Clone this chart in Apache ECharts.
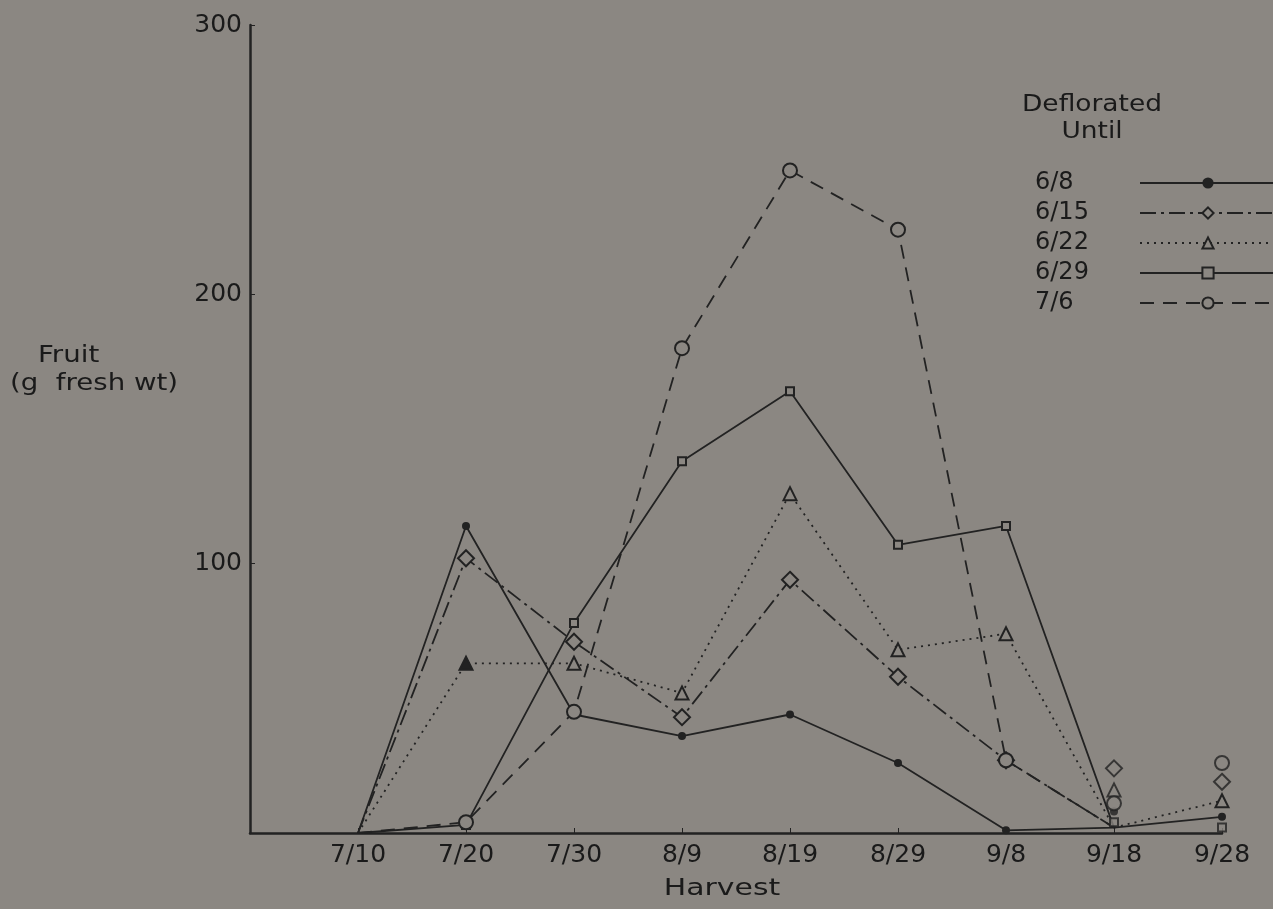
<!DOCTYPE html>
<html>
<head>
<meta charset="utf-8">
<script src="https://cdn.jsdelivr.net/npm/echarts@6/dist/echarts.min.js"></script>
<style>
html,body{margin:0;padding:0;background:#8b8782}
#main{width:1273px;height:909px}
</style>
</head>
<body>
<div id="main"></div>
<script>
var harvest = ['', '7/10', '7/20', '7/30', '8/9', '8/19', '8/29', '9/8', '9/18', '9/28']
var until = ['6/8', '6/15', '6/22', '6/29', '7/6']
// values on the curves (the curves all run down to the axis at 9/18)
var d0608 = [null, 0, 114, 44, 36, 44, 26, 1, 2, 6]
var d0615 = [null, 0, 102, 71, 43, 94, 58, 27, 2, null]
var d0622 = [null, 0, 63, 63, 52, 126, 68, 74, 2, 12]
var d0629 = [null, 0, 3, 78, 138, 164, 107, 114, 2, null]
var d0706 = [null, 0, 4, 45, 180, 246, 224, 27, 2, null]
// markers drawn stacked above the axis at 9/18 and 9/28
var m0608 = [null, null, null, null, null, null, null, null, 8, null]
var m0615 = [null, null, null, null, null, null, null, null, 24, 19]
var m0622 = [null, null, null, null, null, null, null, null, 16, null]
var m0629 = [null, null, null, null, null, null, null, null, 4, 2]
var m0706 = [null, null, null, null, null, null, null, null, 11, 26]
var yTicks = [100, 200, 300]

var ink = '#222222'
var bg = '#8b8782'
var font = 'DejaVu Sans'

// no marker where a curve leaves the axis (7/10) or meets it (9/18)
function pts(arr) {
	return arr.map(function (v, i) {
		if (i == 1 || i == 8) return { value: v, symbol: 'none' }
		return v
	})
}

function markStyle(filled) {
	return { color: filled ? ink : bg, borderColor: ink, borderWidth: filled ? 0 : 2 }
}

function line(name, data, symbol, size, dash, filled) {
	return {
		name: name,
		type: 'line',
		data: data,
		symbol: symbol,
		symbolSize: size,
		showAllSymbol: true,
		connectNulls: false,
		lineStyle: { color: ink, width: 1.8, type: dash },
		itemStyle: markStyle(filled),
		emphasis: { disabled: true },
		z: 3
	}
}

function marks(name, data, symbol, size, filled) {
	return {
		name: name + ' ',
		type: 'scatter',
		data: data,
		symbol: symbol,
		symbolSize: size,
		itemStyle: markStyle(filled),
		emphasis: { disabled: true },
		z: 4
	}
}

var s22 = pts(d0622)
s22[2] = { value: d0622[2], itemStyle: { color: ink } }  // solid triangle at 7/20

var chart = echarts.init(document.getElementById('main'))
chart.setOption({
	backgroundColor: bg,
	animation: false,
	textStyle: { fontFamily: font, color: '#1a1a1a' },
	graphic: [{
		type: 'text', x: 1092, y: 92, scaleX: 1.15,
		style: { text: 'Deflorated\nUntil', font: '23px "DejaVu Sans"', fill: '#1a1a1a', align: 'center', lineHeight: 27 }
	}, {
		type: 'text', x: 38, y: 345, scaleX: 1.2,
		style: { text: 'Fruit', font: '23px "DejaVu Sans"', fill: '#1a1a1a' }
	}, {
		type: 'text', x: 10, y: 373, scaleX: 1.2,
		style: { text: '(g  fresh wt)', font: '23px "DejaVu Sans"', fill: '#1a1a1a' }
	}, {
		type: 'text', x: 722, y: 878, scaleX: 1.3,
		style: { text: 'Harvest', font: '23px "DejaVu Sans"', fill: '#1a1a1a', align: 'center' }
	}],
	legend: {
		orient: 'vertical',
		left: 1030, top: 166,
		align: 'right',
		itemWidth: 136, itemHeight: 14,
		itemGap: 6,
		data: until,
		selectedMode: false,
		formatter: '{t|{name}}',
		textStyle: {
			fontFamily: font, fontSize: 24, color: '#1a1a1a',
			rich: { t: { width: 100, align: 'left', fontFamily: font, fontSize: 24, color: '#1a1a1a' } }
		}
	},
	grid: { left: 250, right: 51, top: 25, bottom: 76, containLabel: false },
	xAxis: {
		type: 'category',
		data: harvest,
		boundaryGap: false,
		axisLine: { lineStyle: { color: ink, width: 2.5 } },
		axisTick: { inside: true, length: 5, lineStyle: { color: ink } },
		axisLabel: { fontFamily: font, fontSize: 25, color: '#1a1a1a', margin: 10 },
		splitLine: { show: false }
	},
	yAxis: {
		type: 'value',
		min: 0, max: 300, interval: 100,
		axisLine: { show: true, lineStyle: { color: ink, width: 2.5 } },
		axisTick: { show: true, inside: true, length: 5, lineStyle: { color: ink } },
		axisLabel: {
			fontFamily: font, fontSize: 25, color: '#1a1a1a', margin: 8,
			formatter: function (v) { return yTicks.indexOf(v) >= 0 ? String(v) : '' }
		},
		splitLine: { show: false }
	},
	series: [
		line('6/8', pts(d0608), 'circle', 8, 'solid', true),
		line('6/15', pts(d0615), 'diamond', 16, [16, 5, 3, 5], false),
		line('6/22', s22, 'triangle', 13, [2, 5], false),
		line('6/29', pts(d0629), 'rect', 8, 'solid', false),
		line('7/6', pts(d0706), 'circle', 14, [14, 9], false),
		marks('6/8', m0608, 'circle', 8, true),
		marks('6/15', m0615, 'diamond', 16, false),
		marks('6/22', m0622, 'triangle', 13, false),
		marks('6/29', m0629, 'rect', 8, false),
		marks('7/6', m0706, 'circle', 14, false)
	]
})
</script>
</body>
</html>
